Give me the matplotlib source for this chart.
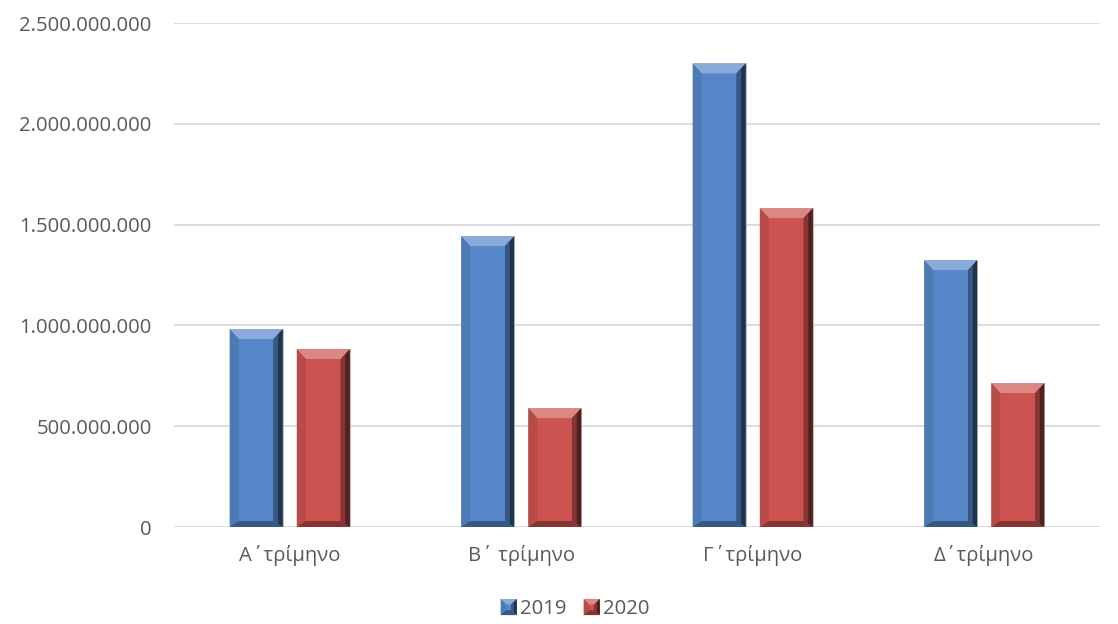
import numpy as np
import matplotlib
matplotlib.use('Agg')
import matplotlib.pyplot as plt
from matplotlib.patches import Polygon, Rectangle
from matplotlib.legend_handler import HandlerBase
from matplotlib.colors import to_rgb

# data
quarters = ['Α΄τρίμηνο', 'Β΄ τρίμηνο', 'Γ΄τρίμηνο', 'Δ΄τρίμηνο']
years = ['2019', '2020']
sales_2019 = [982e6, 1443e6, 2300e6, 1324e6]
sales_2020 = [883e6, 590e6, 1582e6, 714e6]
yticks = [0, 500e6, 1000e6, 1500e6, 2000e6, 2500e6]

blue = '#5587C8'
red = '#CC5350'
text_col = '#595959'
grid_col = '#D9D9D9'

plt.rcParams['font.family'] = ['Open Sans', 'DejaVu Sans']


def shade(c, f):
    # f > 0 -> towards white, f < 0 -> towards black
    r = np.array(to_rgb(c))
    if f >= 0:
        return tuple(r + (1 - r) * f)
    return tuple(r * (1 + f))


def bevel_polys(x0, y0, x1, y1, bx, bt, bb, face):
    top = [(x0, y1), (x1, y1), (x1 - bx, y1 - bt), (x0 + bx, y1 - bt)]
    bottom = [(x0, y0), (x1, y0), (x1 - bx, y0 + bb), (x0 + bx, y0 + bb)]
    left = [(x0, y0), (x0, y1), (x0 + bx, y1 - bt), (x0 + bx, y0 + bb)]
    right = [(x1, y0), (x1, y1), (x1 - bx, y1 - bt), (x1 - bx, y0 + bb)]
    # right side as two strips, so it fades into the dark edge
    xm = x1 - bx / 2
    right_in = [(x1 - bx, y0 + bb), (x1 - bx, y1 - bt), (xm, y1 - bt / 2), (xm, y0 + bb / 2)]
    return [(top, shade(face, 0.3)), (left, shade(face, -0.1)),
            (right, shade(face, -0.62)), (right_in, shade(face, -0.35)),
            (bottom, shade(face, -0.35))]


fig = plt.figure(figsize=(11.18, 6.24), dpi=100)
ax = fig.add_axes([0.1556, 0.1554, 0.8283, 0.8077])

x = np.arange(len(quarters))
w = 0.229
off = 0.145
bars1 = ax.bar(x - off, sales_2019, w, color=blue, edgecolor='#BFBFBF', linewidth=0.6, zorder=2)
bars2 = ax.bar(x + off, sales_2020, w, color=red, edgecolor='#BFBFBF', linewidth=0.6, zorder=2)

ax.set_xlim(-0.5, 3.5)
ax.set_ylim(0, 2.5e9)
ax.set_yticks(yticks)
ax.set_yticklabels([f'{int(v):,}'.replace(',', '.') for v in yticks])
ax.set_xticks(x)
ax.set_xticklabels(quarters)
ax.tick_params(axis='both', length=0, labelsize=14.6, colors=text_col)
ax.tick_params(axis='y', pad=16)
ax.tick_params(axis='x', pad=13)
for s in ax.spines.values():
    s.set_visible(False)
ax.grid(axis='y', color=grid_col, linewidth=1.3)
ax.set_axisbelow(True)

# bevel facets, sizes given in pixels and converted to data units
p0, p1 = ax.transData.transform([[0, 0], [1, 1e9]])
px_x = 1.0 / (p1[0] - p0[0])
px_y = 1e9 / (p1[1] - p0[1])
for bars, col in [(bars1, blue), (bars2, red)]:
    for b in bars:
        x0, y0 = b.get_x(), b.get_y()
        x1, y1 = x0 + b.get_width(), y0 + b.get_height()
        for pts, fc in bevel_polys(x0, y0, x1, y1, 9 * px_x, 10 * px_y, 6 * px_y, col):
            ax.add_patch(Polygon(pts, closed=True, facecolor=fc, edgecolor='none', zorder=3))


class BevelHandler(HandlerBase):
    def create_artists(self, legend, orig_handle, xdescent, ydescent,
                       width, height, fontsize, trans):
        s = min(width, height)
        x0 = -xdescent + (width - s) / 2
        y0 = -ydescent + (height - s) / 2
        face = orig_handle.get_facecolor()
        arts = [Rectangle((x0, y0), s, s, facecolor=face, edgecolor='none', transform=trans)]
        for pts, fc in bevel_polys(x0, y0, x0 + s, y0 + s, s * 0.35, s * 0.35, s * 0.3, face):
            arts.append(Polygon(pts, closed=True, facecolor=fc, edgecolor='none', transform=trans))
        return arts


h1 = Rectangle((0, 0), 1, 1, facecolor=blue)
h2 = Rectangle((0, 0), 1, 1, facecolor=red)
leg = fig.legend([h1, h2], years, loc='center', bbox_to_anchor=(575 / 1118, 1 - 609 / 624),
                 ncol=2, frameon=False, fontsize=14.6, handlelength=0.85, handleheight=0.85,
                 columnspacing=0.8, handletextpad=0.15,
                 handler_map={h1: BevelHandler(), h2: BevelHandler()})
for t in leg.get_texts():
    t.set_color(text_col)

fig.savefig('out.png', dpi=100)
